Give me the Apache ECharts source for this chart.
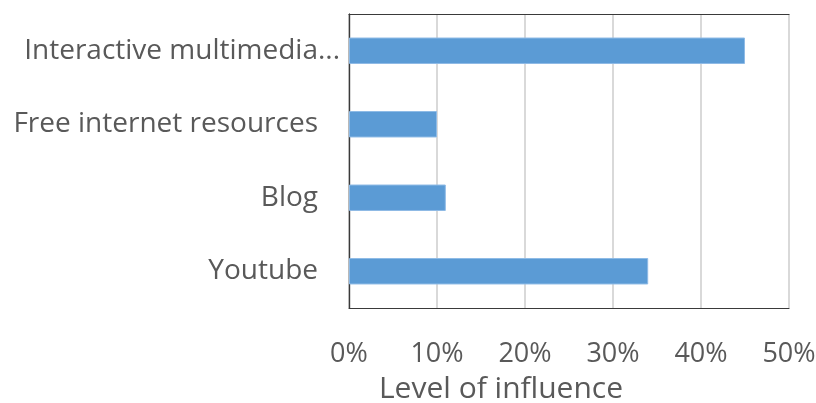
<!DOCTYPE html>
<html>
<head>
<meta charset="utf-8">
<script src="https://cdn.jsdelivr.net/npm/echarts@6/dist/echarts.min.js"></script>
<style>
html,body{margin:0;padding:0;background:#fff;}
#chart{width:816px;height:403px;}
</style>
</head>
<body>
<div id="chart"></div>
<script>
const categories = ['Interactive multimedia...', 'Free internet resources', 'Blog', 'Youtube'];
const values = [45, 10, 11, 34];
const xTicks = [0, 10, 20, 30, 40, 50];
const xAxisTitle = 'Level of influence';

const FONT = '"Open Sans", sans-serif';
const BORDER = { show: true, lineStyle: { color: '#3a3a3a', width: 1.2 } };
const chart = echarts.init(document.getElementById('chart'));
chart.setOption({
  animation: false,
  grid: { left: 349, right: 27, top: 14, bottom: 95, outerBoundsMode: 'none', containLabel: false },
  xAxis: [{
    type: 'value',
    min: xTicks[0], max: xTicks[xTicks.length - 1], interval: 10,
    axisLine: BORDER,
    axisTick: { show: false },
    splitLine: { show: true, lineStyle: { color: '#d9d9d9', width: 2 } },
    axisLabel: {
      formatter: v => v + '%',
      color: '#595959', fontFamily: FONT, fontSize: 27, margin: 33
    },
    name: xAxisTitle,
    nameLocation: 'middle',
    nameGap: 66,
    nameTextStyle: {
      color: '#595959', fontFamily: FONT, fontSize: 30,
      padding: [0, 136, 0, 0]
    }
  }, {
    type: 'value', position: 'top',
    min: xTicks[0], max: xTicks[xTicks.length - 1], interval: 10,
    axisLine: BORDER, axisTick: { show: false }, axisLabel: { show: false },
    splitLine: { show: false }, z: 3
  }],
  yAxis: [{
    type: 'category',
    data: categories,
    inverse: true,
    axisLine: BORDER,
    axisTick: { show: false },
    splitLine: { show: false },
    axisLabel: {
      margin: 9,
      formatter: (v, i) => i === 0 ? '{a|' + v + '}' : '{b|' + v + '}',
      rich: {
        a: { color: '#595959', fontFamily: FONT, fontSize: 28 },
        b: { color: '#595959', fontFamily: FONT, fontSize: 28, padding: [0, 22, 0, 0] }
      }
    },
    z: 3
  }, {
    type: 'category', position: 'right',
    data: categories, inverse: true,
    axisLine: BORDER, axisTick: { show: false }, axisLabel: { show: false },
    splitLine: { show: false }, z: 3
  }],
  series: [{
    type: 'bar',
    data: values,
    barWidth: '36%',
    z: 5,
    itemStyle: { color: '#5b9bd5', borderColor: '#8fbbe6', borderWidth: 1 }
  }]
});
</script>
</body>
</html>
